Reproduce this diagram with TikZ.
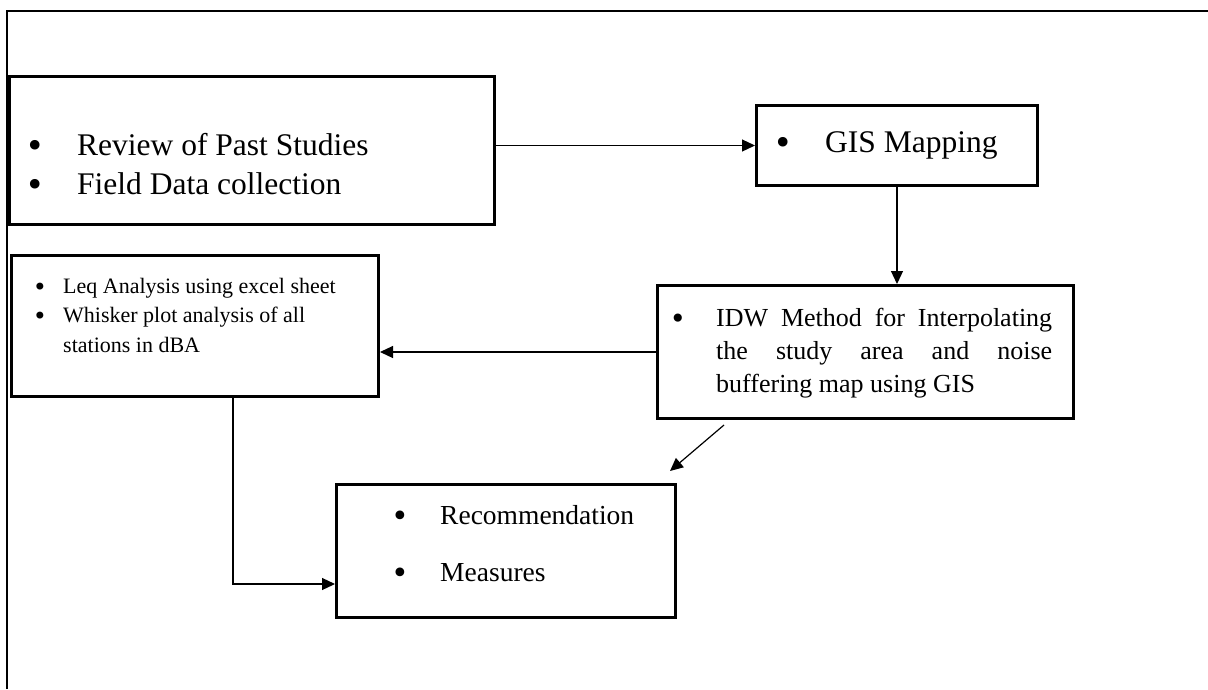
\documentclass[tikz,border=0pt]{standalone}
\usepackage{fontspec}
\setmainfont{Liberation Serif}
\newfontfamily\bulfont{DejaVu Sans}
\usetikzlibrary{arrows.meta}
\begin{document}
\begin{tikzpicture}[x=1pt,y=-1pt,
  box/.style={draw, line width=3pt, inner sep=0pt, anchor=north west},
  conn/.style={line width=1.2pt, -{Triangle[length=13pt,width=12pt]}},
  txt/.style={anchor=base west, inner sep=0pt},
  bul/.style={anchor=base, inner sep=0pt},
  fA/.style={font=\fontsize{31.5}{38}\selectfont},
  fB/.style={font=\fontsize{22}{28}\selectfont},
  fC/.style={font=\fontsize{26}{32}\selectfont},
  fD/.style={font=\fontsize{27.5}{32}\selectfont},
  bA/.style={bul, font=\bulfont\fontsize{33}{36}\selectfont},
  bB/.style={bul, font=\bulfont\fontsize{24}{26}\selectfont},
  bC/.style={bul, font=\bulfont\fontsize{28}{30}\selectfont},
  bD/.style={bul, font=\bulfont\fontsize{30}{32}\selectfont},
]
\useasboundingbox (0,0) rectangle (1208,689);
\draw[line width=1.3pt] (7,689) -- (7,11) -- (1208,11);

% boxes
\node[box, minimum width=485pt, minimum height=148pt] (b1) at (8,75) {};
\node[box, minimum width=281pt, minimum height=80pt] (gis) at (755,104) {};
\node[box, minimum width=367pt, minimum height=141pt] (leq) at (10,254) {};
\node[box, minimum width=416pt, minimum height=133pt] (idw) at (656,284) {};
\node[box, minimum width=339pt, minimum height=133pt] (rec) at (335,483) {};

% box 1 text
\node[bA] (b1u1) at (35,157) {•};
\node[txt, fA] (b1t1) at (77,155) {Review of Past Studies};
\node[bA] (b1u2) at (35,196) {•};
\node[txt, fA] (b1t2) at (77,194) {Field Data collection};

% GIS text
\node[bA] (gu1) at (783,154) {•};
\node[txt, fA] (gt1) at (825,152) {GIS Mapping};

% Leq text
\node[bB] (lu1) at (40,295) {•};
\node[txt, fB] (lt1) at (63,293) {Leq Analysis using excel sheet};
\node[bB] (lu2) at (40,324) {•};
\node[txt, fB] (lt2) at (63,322) {Whisker plot analysis of all};
\node[txt, fB] (lt3) at (63,352) {stations in dBA};

% IDW text
\node[bC] (iu1) at (678,328) {•};
\node[txt, fC] (it1) at (716,326) {\hbox to 336pt{IDW\hfill Method\hfill for\hfill Interpolating}};
\node[txt, fC] (it2) at (716,359) {\hbox to 336pt{the\hfill study\hfill area\hfill and\hfill noise}};
\node[txt, fC] (it3) at (716,392) {buffering map using GIS};

% Recommendation text
\node[bD] (ru1) at (400,526) {•};
\node[txt, fD] (rt1) at (440,524) {Recommendation};
\node[bD] (ru2) at (400,583) {•};
\node[txt, fD] (rt2) at (440,581) {Measures};

% connectors
\draw[conn] (b1.east |- gis.west) -- (gis.west);
\draw[conn] (gis.south) -- (gis.south |- idw.north);
\draw[conn] (idw.west) -- (idw.west -| leq.east);
\draw[conn] ([shift={(68,5)}]idw.south west) -- ([shift={(-7,-12)}]rec.north east);
\draw[conn] ([xshift=38pt]leq.south) |- ([yshift=-33pt]rec.west);
\end{tikzpicture}
\end{document}
